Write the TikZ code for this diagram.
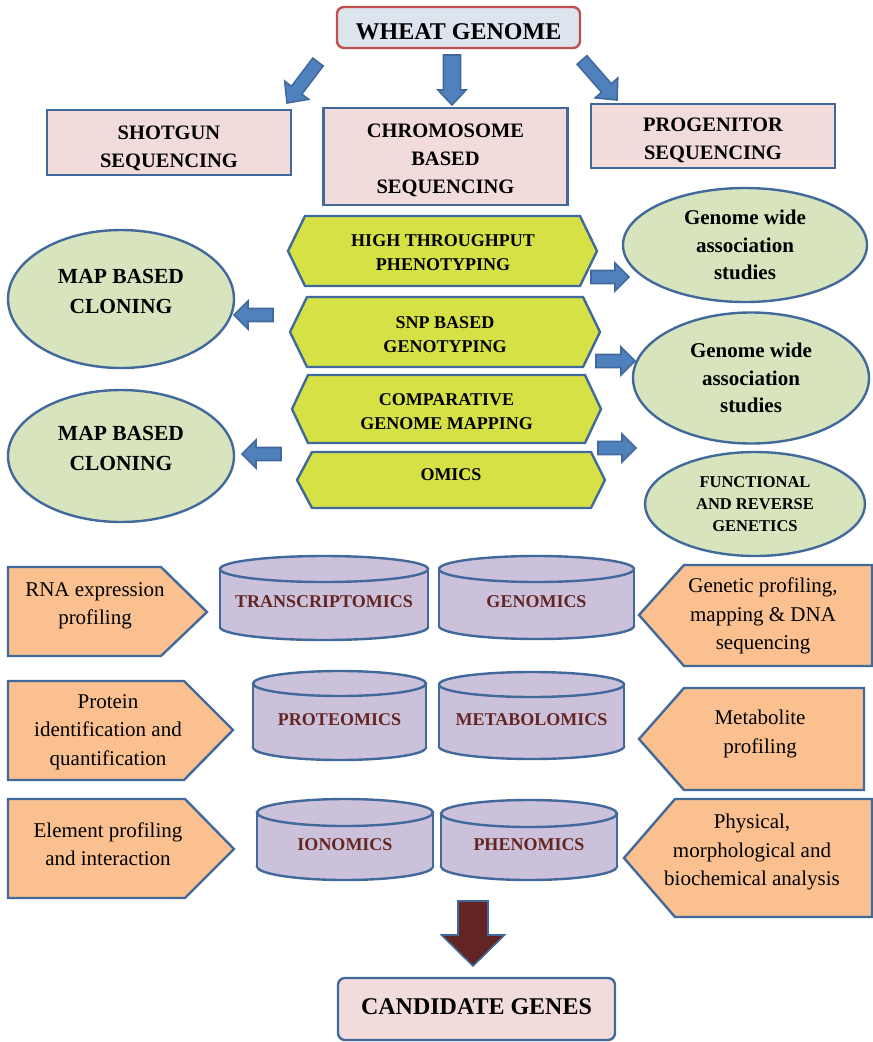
\documentclass[tikz,border=0pt]{standalone}
\usepackage{fontspec}
\setmainfont{Liberation Serif}
\usetikzlibrary{calc,shapes.geometric}

\definecolor{edgeblue}{HTML}{41699B}
\definecolor{arrowblue}{HTML}{4F81BD}
\definecolor{titlered}{HTML}{C0504D}
\definecolor{titlefill}{HTML}{DCE4EE}
\definecolor{boxpink}{HTML}{F2DCDB}
\definecolor{ovalgreen}{HTML}{D7E4BD}
\definecolor{limefill}{HTML}{D5E145}
\definecolor{lilac}{HTML}{CCC1DA}
\definecolor{peach}{HTML}{FAC090}
\definecolor{genered}{HTML}{632523}

% block arrow: [style] tail, tip, half shaft, half head, head length
\newcommand{\blkarrow}[6][]{%
  \coordinate (bh) at ($(#3)!#6!(#2)$);
  \filldraw[blk,#1] ($(#2)!#4!90:(#3)$) -- ($(bh)!#4!-90:(#2)$)
    -- ($(bh)!#5!-90:(#2)$) -- (#3) -- ($(bh)!#5!90:(#2)$)
    -- ($(bh)!#4!90:(#2)$) -- ($(#2)!#4!-90:(#3)$) -- cycle;}

% drum: left, right, top, bottom, y radius
\newcommand{\drum}[5]{%
  \filldraw[drumfill] ({(#1+#2)/2},{#4-#5}) ellipse ({(#2-#1)/2} and #5);
  \fill[lilac] (#1,{#3+#5}) rectangle (#2,{#4-#5});
  \draw[drumfill] (#1,{#3+#5}) -- (#1,{#4-#5}) (#2,{#3+#5}) -- (#2,{#4-#5});
  \filldraw[drumfill] ({(#1+#2)/2},{#3+#5}) ellipse ({(#2-#1)/2} and #5);}

\begin{document}
\begin{tikzpicture}[x=1pt,y=-1pt,
	every node/.style={align=center,inner sep=0pt},
	pinkbox/.style={draw=edgeblue,fill=boxpink,line width=2.4pt,minimum width=244pt},
	boxtxt/.style={font=\fontsize{20.5}{28}\selectfont\bfseries},
	roundbox/.style={rounded corners=7pt,line width=2.4pt},
	bigtxt/.style={font=\fontsize{24}{28}\selectfont\bfseries},
	oval/.style={ellipse,draw=edgeblue,fill=ovalgreen,line width=2.4pt},
	ovaltxt/.style={font=\fontsize{21}{27.5}\selectfont\bfseries},
	hexfill/.style={draw=edgeblue,fill=limefill,line width=2.4pt},
	hextxt/.style={font=\fontsize{18}{24}\selectfont\bfseries},
	tagfill/.style={draw=edgeblue,fill=peach,line width=2.4pt},
	tagtxt/.style={font=\fontsize{21}{28.5}\selectfont},
	drumfill/.style={draw=edgeblue,fill=lilac,line width=2.4pt},
	drumtxt/.style={text=genered,font=\fontsize{18}{22}\selectfont\bfseries},
	blk/.style={draw=edgeblue,fill=arrowblue,line width=1.6pt}]
	\useasboundingbox (0,0) rectangle (873,1042);

	% top
	\node[roundbox,draw=titlered,fill=titlefill,minimum width=243pt,minimum height=41pt] (wheat) at (458.5,27.5) {};
	\node[bigtxt] (wheatt) at (458.5,31.5) {WHEAT GENOME};
	\blkarrow{318,62}{287,103}{6.5pt}{15pt}{16pt}
	\blkarrow{452,55}{452,105}{8.5pt}{14pt}{15pt}
	\blkarrow{582,60}{617,100}{6.5pt}{15pt}{16pt}
	\node[pinkbox,minimum height=65pt] (shotgun) at (169,142.5) {};
	\node[pinkbox,minimum height=97pt] (chromo) at (445.5,156.5) {};
	\node[pinkbox,minimum height=64pt] (progen) at (713,136) {};
	\node[boxtxt] (shotgunt) at (169,148) {SHOTGUN\\SEQUENCING};
	\node[boxtxt] (chromot) at (445.5,160) {CHROMOSOME\\BASED\\SEQUENCING};
	\node[boxtxt] (progent) at (713,140.5) {PROGENITOR\\SEQUENCING};

	% tools
	\filldraw[hexfill] (288,251) -- (305,216) -- (580,216) -- (597,251) -- (580,286) -- (305,286) -- cycle;
	\filldraw[hexfill] (290,332) -- (307,297) -- (583,297) -- (600,332) -- (583,367) -- (307,367) -- cycle;
	\filldraw[hexfill] (292,409) -- (308,375) -- (585,375) -- (601,409) -- (585,443) -- (308,443) -- cycle;
	\filldraw[hexfill] (297,480) -- (312,452) -- (591,452) -- (605,480) -- (591,508) -- (312,508) -- cycle;
	\node[hextxt] (htp) at (443,253) {HIGH THROUGHPUT\\PHENOTYPING};
	\node[hextxt] (snp) at (445,335) {SNP BASED\\GENOTYPING};
	\node[hextxt] (cgm) at (446.5,411.5) {COMPARATIVE\\GENOME MAPPING};
	\node[hextxt] (omics) at (451,475) {OMICS};

	% outcomes
	\node[oval,minimum width=226pt,minimum height=138pt] (mbc1) at (121,299) {};
	\node[ovaltxt,font=\fontsize{21.5}{30}\selectfont\bfseries] (mbc1t) at (121,291) {MAP BASED\\CLONING};
	\node[oval,minimum width=226pt,minimum height=132pt] (mbc2) at (121,456) {};
	\node[ovaltxt,font=\fontsize{21.5}{30}\selectfont\bfseries] (mbc2t) at (121,448.5) {MAP BASED\\CLONING};
	\node[oval,ovaltxt,minimum width=244pt,minimum height=114pt] (gwas1) at (745,245) {Genome wide\\association\\studies};
	\node[oval,ovaltxt,minimum width=236pt,minimum height=131pt] (gwas2) at (751,378) {Genome wide\\association\\studies};
	\node[oval,font=\fontsize{16.5}{22}\selectfont\bfseries,minimum width=220pt,minimum height=104pt] (frg) at (755,504) {FUNCTIONAL\\AND REVERSE\\GENETICS};
	\blkarrow{273,315}{234,315}{6.5pt}{14pt}{14pt}
	\blkarrow{281,454}{242,454}{6.5pt}{14pt}{14pt}
	\blkarrow{591,277}{629,277}{6.5pt}{14pt}{14pt}
	\blkarrow{596,361}{635,361}{6.5pt}{14pt}{14pt}
	\blkarrow{598,448}{636,448}{6.5pt}{14pt}{14pt}

	% omics tags
	\filldraw[tagfill] (8,567) -- (161,567) -- (207,612) -- (161,656) -- (8,656) -- cycle;
	\filldraw[tagfill] (8,681) -- (184,681) -- (233,730) -- (184,780) -- (8,780) -- cycle;
	\filldraw[tagfill] (8,799) -- (185,799) -- (234,849) -- (185,898) -- (8,898) -- cycle;
	\filldraw[tagfill] (639,615) -- (684,565) -- (872,565) -- (872,666) -- (684,666) -- cycle;
	\filldraw[tagfill] (639,739) -- (684,688) -- (864,688) -- (864,790) -- (684,790) -- cycle;
	\filldraw[tagfill] (624,858) -- (675,799) -- (872,799) -- (872,917) -- (675,917) -- cycle;
	\node[tagtxt] (rna) at (95,606) {RNA expression\\profiling};
	\node[tagtxt] (prot) at (108,732) {Protein\\identification and\\quantification};
	\node[tagtxt] (elem) at (108,844) {Element profiling\\and interaction};
	\node[tagtxt] (gen) at (763,616) {Genetic profiling,\\mapping \& DNA\\sequencing};
	\node[tagtxt] (metab) at (760,734) {Metabolite\\profiling};
	\node[tagtxt] (phys) at (752,852) {Physical,\\morphological and\\biochemical analysis};

	% drums
	\drum{220}{428}{556}{640}{13}
	\drum{439}{634}{556}{639}{13}
	\drum{253}{426}{671}{760}{12.5}
	\drum{439}{624}{672}{759}{12.5}
	\drum{257}{433}{799}{880}{13.5}
	\drum{441}{617}{800}{880}{13.5}
	\node[drumtxt] (trans) at (324,602) {TRANSCRIPTOMICS};
	\node[drumtxt] (genom) at (536.5,602) {GENOMICS};
	\node[drumtxt] (prote) at (339.5,720) {PROTEOMICS};
	\node[drumtxt] (metabo) at (531.5,720) {METABOLOMICS};
	\node[drumtxt] (ionom) at (345,845) {IONOMICS};
	\node[drumtxt] (phenom) at (529,845) {PHENOMICS};

	% result
	\blkarrow[fill=genered]{473,901}{473,966}{15pt}{31.5pt}{31pt}
	\node[roundbox,draw=edgeblue,fill=boxpink,minimum width=277pt,minimum height=62pt] (cand) at (476.5,1009) {};
	\node[bigtxt] (candt) at (476.5,1007) {CANDIDATE GENES};
\end{tikzpicture}
\end{document}
